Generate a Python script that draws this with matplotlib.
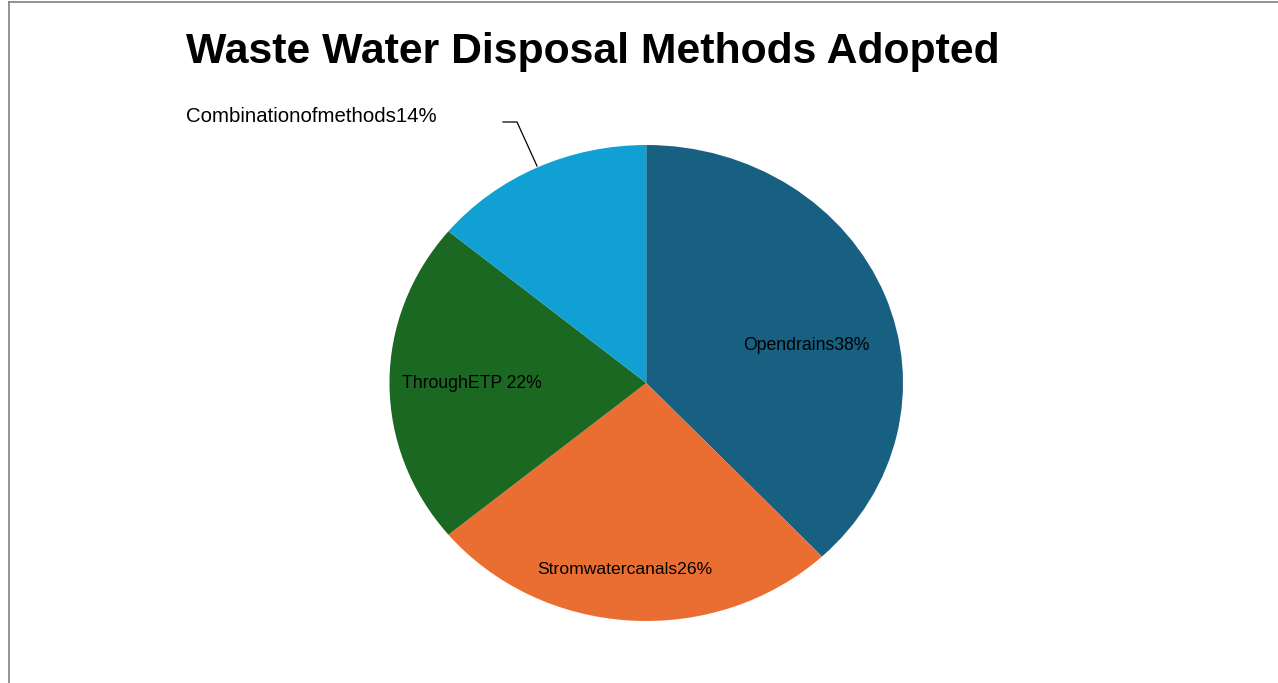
import matplotlib
matplotlib.use("Agg")
import matplotlib.pyplot as plt
from matplotlib.lines import Line2D

plt.rcParams['font.family'] = ['Liberation Sans', 'DejaVu Sans']

# data
methods = ["Opendrains", "Stromwatercanals", "ThroughETP ", "Combinationofmethods"]
shares = [38, 26, 22, 14]
colors = ["#176082", "#EA6E31", "#1A6822", "#10A0D4"]

W, H = 1278, 683
fig = plt.figure(figsize=(W / 100, H / 100), dpi=100)

# pie is a bit wider than tall in the original
px_left, px_right, px_top, px_bottom = 389.5, 903, 145, 621
ax = fig.add_axes([px_left / W, 1 - px_bottom / H,
                   (px_right - px_left) / W, (px_bottom - px_top) / H])
ax.pie(shares, colors=colors, startangle=90, counterclock=False,
       radius=1, wedgeprops=dict(linewidth=0))
ax.set_xlim(-1, 1)
ax.set_ylim(-1, 1)
ax.set_aspect("auto")
ax.axis("off")

# label placement (pixel centres)
label_pos = [(806, 345, "center", 12.7),
             (625, 570, "center", 12.6),
             (472, 384, "center", 12.7),
             (186, 116, "left", 14.7)]
for (name, val), (x, y, ha, fs) in zip(zip(methods, shares), label_pos):
    fig.text(x / W, 1 - y / H, f"{name}{val}%", ha=ha, va="center",
             fontsize=fs, color="black")

# leader line for the small slice
lx = [503, 517, 537]
ly = [122, 122, 166]
fig.add_artist(Line2D([v / W for v in lx], [1 - v / H for v in ly],
                      color="black", lw=0.9))

fig.text(186 / W, 1 - 52 / H, "Waste Water Disposal Methods Adopted",
         fontsize=30.8, fontweight="bold", ha="left", va="center")

# frame lines at top and left
fig.add_artist(Line2D([9 / W, 1], [1 - 2 / H, 1 - 2 / H], color="#808080", lw=1.2))
fig.add_artist(Line2D([9 / W, 9 / W], [0, 1 - 2 / H], color="#808080", lw=1.2))

fig.savefig("out.png", dpi=100)
